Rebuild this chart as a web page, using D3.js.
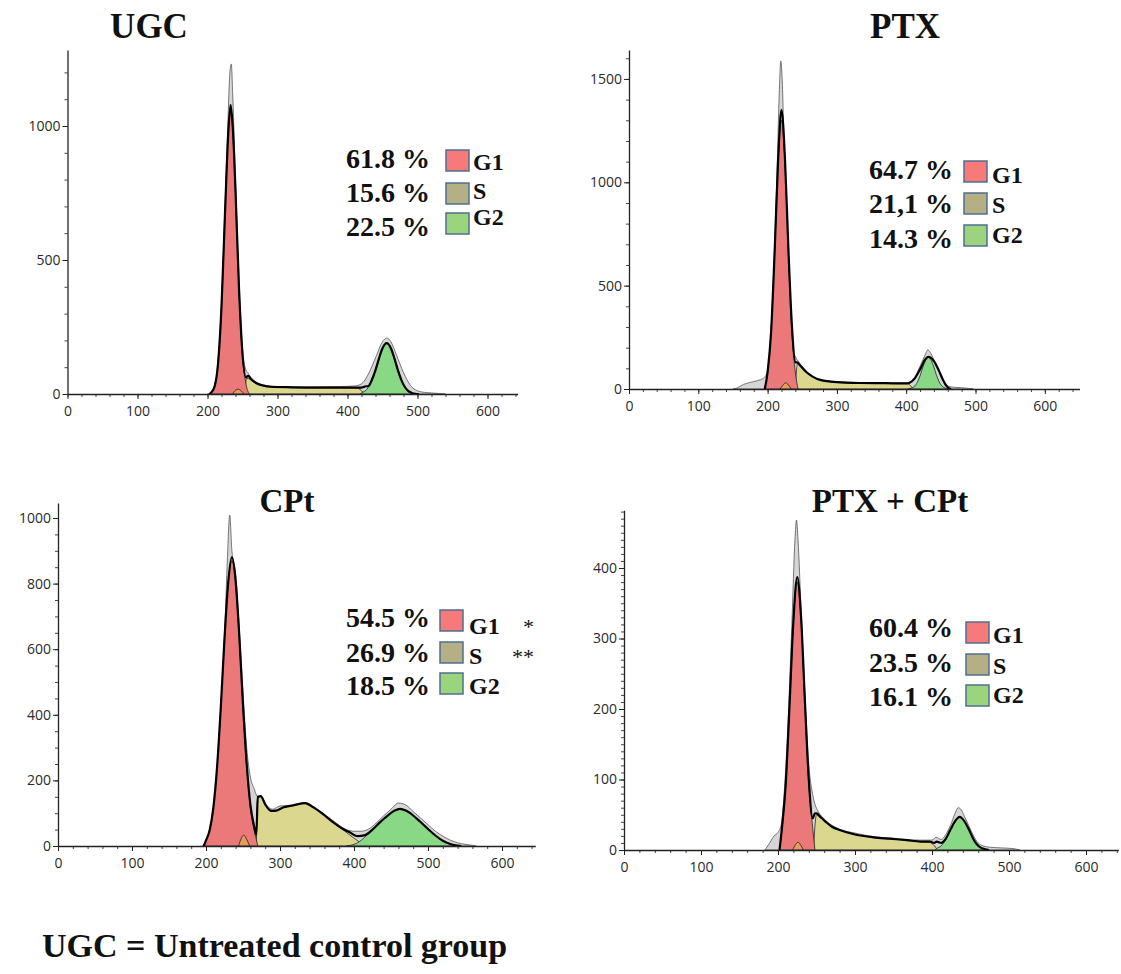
<!DOCTYPE html>
<html>
<head>
<meta charset="utf-8">
<script src="https://cdn.jsdelivr.net/npm/d3@7"></script>
<style>
body { margin: 0; background: #fff; }
svg { display: block; }
.tick text { font-family: "Open Sans", sans-serif; font-size: 14px; fill: #2a2a2a; }
.serif { font-family: "Liberation Serif", "Times New Roman", serif; font-weight: bold; fill: #111; }
</style>
</head>
<body>
<svg id="chart" width="1121" height="974"></svg>
<script>

var xTicks = [0, 100, 200, 300, 400, 500, 600];
var phaseNames = ["G1", "S", "G2"];

// UGC
var ugcYTicks = [0, 500, 1000];
var ugcPct = ["61.8 %", "15.6 %", "22.5 %"];
var ugcTotal = [[200,0],[205,3],[210,30],[215,120],[220,340],[225,700],[229,1000],[232,1200],[234,1231],[236,1120],[239,880],[243,560],[247,300],[251,140],[255,90],[258,78],[262,62],[270,44],[280,33],[300,28],[330,26],[360,27],[390,28],[410,30],[420,38],[430,75],[440,135],[450,195],[456,209],[462,195],[470,145],[480,80],[490,32],[500,12],[510,6],[520,4],[530,2],[540,0]];
var ugcG1 = [[203,0],[205,5],[210,27],[215,112],[220,326],[225,674],[230,987],[233,1050],[236,987],[240,748],[245,387],[250,142],[255,37],[260,0]];
var ugcS = [[253,0],[256,58],[260,56],[265,46],[272,37],[280,31],[290,27],[320,25],[360,24],[400,24],[414,22],[420,12],[425,0]];
var ugcG2 = [[418,0],[420,4],[425,11],[430,26],[435,52],[440,89],[445,133],[450,171],[456,190],[462,171],[467,133],[472,89],[477,52],[482,26],[487,11],[492,4],[497,1],[500,0]];
var ugcFit = [[203,0],[205,5],[210,27],[215,112],[220,326],[225,674],[230,990],[233,1078],[236,1000],[240,760],[245,395],[250,150],[255,62],[258,68],[262,56],[270,40],[280,31],[290,27],[320,25],[360,24],[400,24],[412,24],[420,24],[425,28],[430,30],[435,54],[440,89],[445,133],[450,171],[456,190],[462,171],[467,133],[472,89],[477,52],[482,26],[487,11],[492,4],[497,1],[502,0]];
var ugcBump = [[236,0],[240,14],[244,18],[248,12],[252,0]];

// PTX
var ptxYTicks = [0, 500, 1000, 1500];
var ptxPct = ["64.7 %", "21,1 %", "14.3 %"];
var ptxTotal = [[150,0],[156,5],[165,22],[175,32],[185,40],[195,55],[200,90],[205,290],[210,680],[214,1100],[217,1450],[219,1587],[221,1500],[224,1150],[228,750],[232,400],[236,200],[240,158],[244,135],[250,110],[260,72],[276,46],[300,34],[333,30],[370,29],[400,29],[410,45],[420,110],[428,170],[431,189],[434,180],[440,140],[447,90],[455,35],[462,12],[470,8],[480,6],[490,3],[497,0]];
var ptxG1 = [[195,0],[200,82],[205,274],[210,651],[215,1094],[220,1300],[225,1094],[230,651],[235,274],[240,82],[244,0]];
var ptxS = [[240,0],[243,120],[248,108],[255,84],[265,60],[276,43],[300,32],[333,28],[370,27],[400,26],[405,20],[410,0]];
var ptxG2 = [[403,0],[405,2],[410,8],[415,26],[420,64],[425,115],[432,155],[439,115],[444,64],[449,26],[454,8],[459,2],[462,0]];
var ptxFit = [[196,0],[200,82],[205,274],[210,651],[215,1094],[220,1350],[225,1120],[230,680],[235,310],[240,130],[243,128],[248,110],[255,85],[265,60],[276,44],[300,33],[333,29],[370,28],[400,27],[405,30],[412,50],[420,95],[428,145],[432,155],[440,135],[447,90],[453,45],[458,15],[462,3],[465,0]];
var ptxBump = [[218,0],[222,18],[226,30],[230,20],[234,0]];

// CPt
var cptYTicks = [0, 200, 400, 600, 800, 1000];
var cptPct = ["54.5 %", "26.9 %", "18.5 %"];
var cptMarks = ["*", "**", ""];
var cptTotal = [[195,0],[200,15],[205,45],[210,115],[215,240],[220,420],[225,640],[229,880],[232,1009],[235,900],[240,830],[245,660],[250,470],[255,300],[260,210],[265,175],[270,150],[275,150],[280,130],[290,112],[300,122],[320,125],[335,132],[350,112],[370,80],[390,50],[400,45],[410,45],[420,52],[430,70],[440,92],[450,112],[460,131],[470,125],[480,105],[490,85],[500,65],[510,45],[520,30],[530,18],[540,10],[550,5],[560,2],[565,0]];
var cptG1 = [[197,0],[200,17],[205,49],[210,118],[215,242],[220,423],[225,632],[230,803],[235,870],[240,803],[245,632],[250,423],[255,242],[260,118],[265,49],[268,20],[270,0]];
var cptS = [[268,0],[270,148],[274,150],[280,125],[288,106],[295,108],[305,118],[318,124],[334,131],[345,118],[360,94],[372,72],[385,50],[394,34],[405,16],[412,6],[418,0]];
var cptG2 = [[390,0],[395,2],[405,10],[415,28],[425,50],[435,72],[445,92],[455,108],[462,113],[470,108],[480,93],[490,73],[500,52],[510,32],[520,16],[530,6],[540,1],[545,0]];
var cptFit = [[197,0],[200,17],[205,49],[210,118],[215,242],[220,423],[225,632],[230,803],[235,881],[240,810],[245,640],[250,430],[255,250],[260,125],[265,60],[268,35],[270,150],[274,152],[280,127],[288,107],[295,108],[305,118],[318,124],[334,131],[345,118],[360,94],[372,72],[385,52],[394,42],[405,30],[415,33],[425,50],[435,72],[445,92],[455,108],[462,113],[470,108],[480,93],[490,73],[500,52],[510,32],[520,16],[530,6],[540,1],[545,0]];
var cptBump = [[244,0],[248,25],[251,33],[255,20],[259,0]];

// PTX + CPt
var comboYTicks = [0, 100, 200, 300, 400];
var comboPct = ["60.4 %", "23.5 %", "16.1 %"];
var comboTotal = [[183,0],[188,8],[195,20],[200,25],[204,35],[208,80],[213,180],[218,320],[222,440],[224,468],[226,440],[230,340],[235,220],[240,120],[244,85],[248,65],[252,55],[260,44],[270,35],[281,29],[300,24],[324,19],[345,17],[367,15],[385,14],[400,14],[405,18],[412,15],[418,22],[424,35],[430,52],[434,60],[438,57],[442,48],[448,34],[454,20],[460,10],[466,6],[475,4],[490,3],[505,2],[514,0]];
var comboG1 = [[202,0],[205,30],[210,93],[215,206],[220,325],[225,380],[230,326],[235,205],[240,94],[245,32],[248,0]];
var comboS = [[246,0],[250,50],[255,46],[262,40],[270,33],[281,28],[300,22],[324,18],[345,16],[367,14],[385,12],[397,11],[403,6],[407,0]];
var comboG2 = [[404,0],[406,2],[412,6],[418,15],[424,29],[430,41],[436,47],[442,41],[448,29],[454,15],[460,6],[466,2],[474,0]];
var comboFit = [[202,0],[205,30],[210,93],[215,206],[220,325],[225,387],[230,330],[235,210],[240,100],[245,45],[248,52],[250,52],[255,47],[262,40],[270,33],[281,28],[300,22],[324,18],[345,16],[367,14],[385,12],[397,12],[403,10],[406,12],[412,10],[418,16],[424,29],[430,41],[436,47],[442,41],[448,29],[454,15],[460,6],[466,2],[474,0]];
var comboBump = [[219,0],[223,8],[226,11],[230,6],[233,0]];

var colors = {
    total: "#d6d6d6", g1: "#ec7979", s: "#dcd78e", g2: "#88d886", bump: "#e89a5a",
    boxG1: "#f77a7a", boxS: "#b5af86", boxG2: "#9ad57e"
};

var panels = [
    { title: "UGC", tx: 149, ty: 38, tsize: 35, x0: 67.5, kx: 0.70, xMax: 643, base: 394, ky: 0.268, yMax: 1284,
      yTicks: ugcYTicks, yMinor: 100, total: ugcTotal, g1: ugcG1, s: ugcS, g2: ugcG2, fit: ugcFit, bump: ugcBump,
      pct: ugcPct, marks: null,
      leg: { tx: 346, bx: 446, lx: 473, rows: [168, 202, 236], boxes: [150, 183, 213], labels: [170, 199, 225] } },
    { title: "PTX", tx: 905, ty: 38, tsize: 35, x0: 629, kx: 0.693, xMax: 650, base: 389, ky: 0.2067, yMax: 1640,
      yTicks: ptxYTicks, yMinor: 100, total: ptxTotal, g1: ptxG1, s: ptxS, g2: ptxG2, fit: ptxFit, bump: ptxBump,
      pct: ptxPct, marks: null,
      leg: { tx: 869, bx: 964, lx: 992, rows: [179, 213, 248], boxes: [161, 193, 225], labels: [183, 213, 243] } },
    { title: "CPt", tx: 287, ty: 512, tsize: 33, x0: 58, kx: 0.74, xMax: 645, base: 846, ky: 0.328, yMax: 1046,
      yTicks: cptYTicks, yMinor: 50, total: cptTotal, g1: cptG1, s: cptS, g2: cptG2, fit: cptFit, bump: cptBump,
      pct: cptPct, marks: cptMarks,
      leg: { tx: 346, bx: 440, lx: 469, rows: [627, 662, 695], boxes: [610, 642, 673], labels: [634, 664, 694] } },
    { title: "PTX + CPt", tx: 890, ty: 512, tsize: 33, x0: 624, kx: 0.77, xMax: 642, base: 850, ky: 0.705, yMax: 482,
      yTicks: comboYTicks, yMinor: 10, total: comboTotal, g1: comboG1, s: comboS, g2: comboG2, fit: comboFit, bump: comboBump,
      pct: comboPct, marks: null,
      leg: { tx: 869, bx: 966, lx: 993, rows: [637, 672, 706], boxes: [622, 654, 685], labels: [643, 674, 703] } }
];

var svg = d3.select("#chart");

panels.forEach(function (p) {
    var x = d3.scaleLinear().domain([0, p.xMax]).range([p.x0, p.x0 + p.xMax * p.kx]);
    var y = d3.scaleLinear().domain([0, p.yMax]).range([p.base, p.base - p.yMax * p.ky]);
    var g = svg.append("g");

    var area = d3.area()
        .x(d => x(d[0]))
        .y0(y(0))
        .y1(d => y(d[1]))
        .curve(d3.curveMonotoneX);
    var line = d3.line()
        .x(d => x(d[0]))
        .y(d => y(d[1]))
        .curve(d3.curveMonotoneX);

    // measured histogram
    g.append("path").datum(p.total)
        .attr("d", area)
        .attr("fill", colors.total)
        .attr("stroke", "#555")
        .attr("stroke-width", 0.8);

    // model components
    [[p.s, colors.s], [p.g2, colors.g2], [p.g1, colors.g1], [p.bump, colors.bump]].forEach(function (c) {
        g.append("path").datum(c[0])
            .attr("d", area)
            .attr("fill", c[1])
            .attr("stroke", "#222")
            .attr("stroke-width", 1)
            .attr("stroke-opacity", 0.8);
    });

    // fit line
    g.append("path").datum(p.fit)
        .attr("d", line)
        .attr("fill", "none")
        .attr("stroke", "#000")
        .attr("stroke-width", 2.2)
        .attr("stroke-linejoin", "round");

    // axes
    var xMinor = d3.axisBottom(x).tickValues(d3.range(0, p.xMax, 20)).tickSize(3).tickFormat("");
    var yMinor = d3.axisLeft(y).tickValues(d3.range(0, p.yMax, p.yMinor)).tickSize(3).tickFormat("");
    g.append("g").attr("transform", "translate(0," + p.base + ")").call(xMinor)
        .call(s => s.select(".domain").remove())
        .selectAll("line").attr("stroke", "#444");
    g.append("g").attr("transform", "translate(" + p.x0 + ",0)").call(yMinor)
        .call(s => s.select(".domain").remove())
        .selectAll("line").attr("stroke", "#444");

    var xAxis = d3.axisBottom(x).tickValues(xTicks).tickFormat(d3.format("d"))
        .tickSize(5).tickPadding(7).tickSizeOuter(0);
    var yAxis = d3.axisLeft(y).tickValues(p.yTicks).tickFormat(d3.format("d"))
        .tickSize(5).tickPadding(2).tickSizeOuter(0);
    var gx = g.append("g").attr("transform", "translate(0," + p.base + ")").call(xAxis);
    var gy = g.append("g").attr("transform", "translate(" + p.x0 + ",0)").call(yAxis);
    [gx, gy].forEach(function (a) {
        a.select(".domain").attr("stroke", "#222").attr("stroke-width", 1.3);
        a.selectAll(".tick line").attr("stroke", "#222");
        a.selectAll(".tick text").attr("font-family", null).attr("font-size", null);
    });

    // title
    svg.append("text").attr("class", "serif")
        .attr("x", p.tx).attr("y", p.ty)
        .attr("text-anchor", "middle")
        .style("font-size", p.tsize + "px")
        .text(p.title);

    // legend
    var boxColors = [colors.boxG1, colors.boxS, colors.boxG2];
    phaseNames.forEach(function (name, i) {
        svg.append("text").attr("class", "serif")
            .attr("x", p.leg.tx).attr("y", p.leg.rows[i])
            .style("font-size", "28px")
            .text(p.pct[i]);
        svg.append("rect")
            .attr("x", p.leg.bx).attr("y", p.leg.boxes[i])
            .attr("width", 23).attr("height", 21)
            .attr("fill", boxColors[i])
            .attr("stroke", "#4f6f8f")
            .attr("stroke-width", 1.5);
        svg.append("text").attr("class", "serif")
            .attr("x", p.leg.lx).attr("y", p.leg.labels[i])
            .style("font-size", "24px")
            .text(name);
        if (p.marks && p.marks[i]) {
            svg.append("text").attr("class", "serif")
                .attr("x", 534).attr("y", p.leg.labels[i])
                .attr("text-anchor", "end")
                .style("font-size", "22px")
                .style("font-weight", "normal")
                .text(p.marks[i]);
        }
    });
});

svg.append("text").attr("class", "serif")
    .attr("x", 42).attr("y", 957)
    .style("font-size", "34px")
    .text("UGC = Untreated control group");

</script>
</body>
</html>
